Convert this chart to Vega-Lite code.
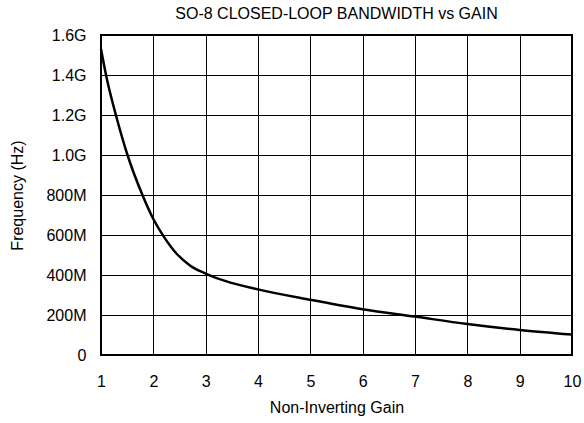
{
  "$schema": "https://vega.github.io/schema/vega-lite/v6.json",
  "width": 471,
  "height": 320,
  "autosize": {"type": "none"},
  "padding": {"left": 101, "top": 35, "right": 12, "bottom": 68},
  "background": "white",
  "title": {
    "text": "SO-8 CLOSED-LOOP BANDWIDTH vs GAIN",
    "font": "Liberation Sans",
    "fontSize": 16,
    "fontWeight": "normal",
    "color": "black",
    "anchor": "middle",
    "offset": 5
  },
  "config": {
    "view": {"stroke": "black", "strokeWidth": 2},
    "axis": {
      "grid": true,
      "gridColor": "black",
      "gridWidth": 1,
      "gridOpacity": 1,
      "domain": false,
      "ticks": false,
      "labelFont": "Liberation Sans",
      "labelFontSize": 16,
      "labelColor": "black",
      "titleFont": "Liberation Sans",
      "titleFontSize": 16,
      "titleFontWeight": "normal",
      "titleColor": "black"
    }
  },
  "data": {
    "values": [
      {"gain": 1.0, "freq": 1530000000},
      {"gain": 1.1, "freq": 1395000000},
      {"gain": 1.3, "freq": 1185000000},
      {"gain": 1.5, "freq": 1005000000},
      {"gain": 1.8, "freq": 795000000},
      {"gain": 2.0, "freq": 680000000},
      {"gain": 2.2, "freq": 592000000},
      {"gain": 2.45, "freq": 505000000},
      {"gain": 2.7, "freq": 448000000},
      {"gain": 3.0, "freq": 407000000},
      {"gain": 3.4, "freq": 368000000},
      {"gain": 4.0, "freq": 328000000},
      {"gain": 5.0, "freq": 276000000},
      {"gain": 6.0, "freq": 229000000},
      {"gain": 7.0, "freq": 192000000},
      {"gain": 8.0, "freq": 155000000},
      {"gain": 9.0, "freq": 125000000},
      {"gain": 10.0, "freq": 102000000}
    ]
  },
  "mark": {"type": "line", "color": "black", "strokeWidth": 2.5, "interpolate": "monotone"},
  "encoding": {
    "x": {
      "field": "gain",
      "type": "quantitative",
      "scale": {"domain": [1, 10], "nice": false, "zero": false},
      "axis": {"values": [1,2,3,4,5,6,7,8,9,10], "title": "Non-Inverting Gain", "labelPadding": 18, "titlePadding": 10, "labelFlush": false}
    },
    "y": {
      "field": "freq",
      "type": "quantitative",
      "scale": {"domain": [0, 1600000000], "nice": false},
      "axis": {
        "values": [0, 200000000, 400000000, 600000000, 800000000, 1000000000, 1200000000, 1400000000, 1600000000],
        "labelExpr": "datum.value == 0 ? '0' : (datum.value < 1000000000 ? format(datum.value / 1000000, 'd') + 'M' : format(datum.value / 1000000000, '.1f') + 'G')",
        "title": "Frequency (Hz)",
        "labelPadding": 15,
        "titlePadding": 20,
        "labelFlush": false
      }
    }
  }
}
